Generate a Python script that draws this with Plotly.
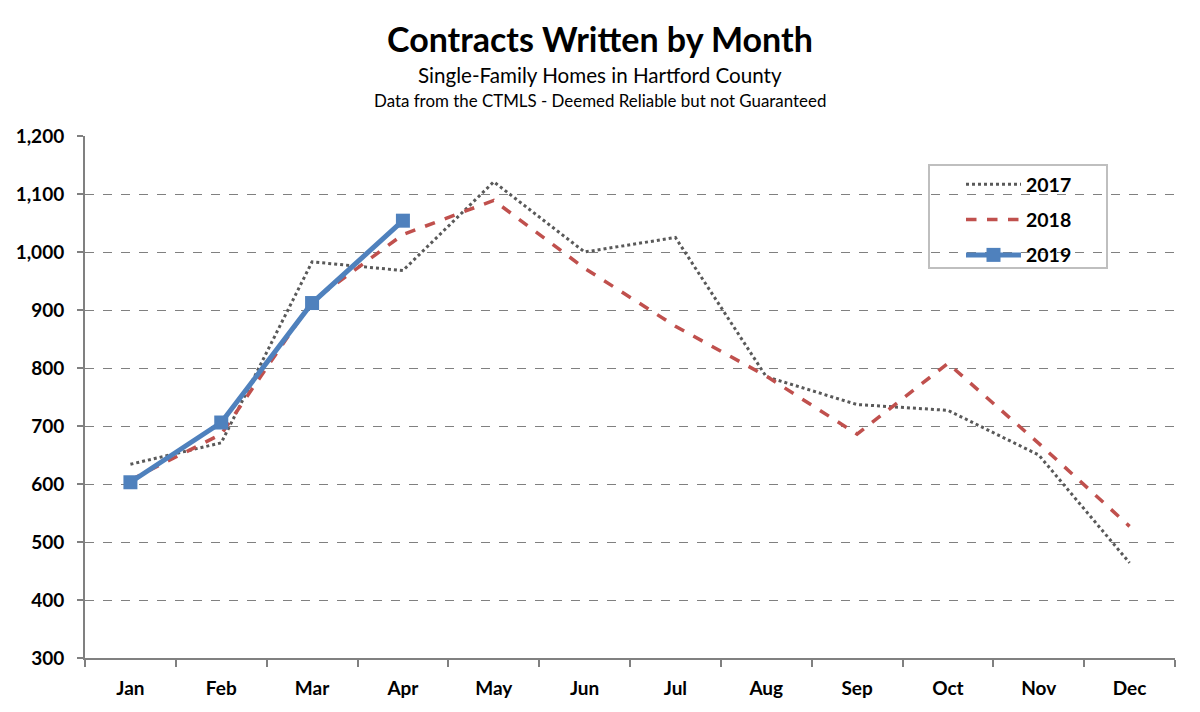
import plotly.graph_objects as go

months = ["Jan", "Feb", "Mar", "Apr", "May", "Jun", "Jul", "Aug", "Sep", "Oct", "Nov", "Dec"]
y2017 = [634, 671, 983, 968, 1121, 1000, 1025, 785, 737, 727, 650, 464]
y2018 = [607, 686, 915, 1030, 1089, 972, 872, 786, 686, 808, 670, 527]
y2019 = [603, 706, 912, 1054]
y_ticks = [300, 400, 500, 600, 700, 800, 900, 1000, 1100, 1200]

FONT = "Lato, Open Sans, sans-serif"

fig = go.Figure()
fig.add_trace(go.Scatter(x=months, y=y2017, name="2017", mode="lines", legendgroup="a",
                         line=dict(color="#595959", width=3, dash="dot")))
fig.add_trace(go.Scatter(x=months, y=y2018, name="2018", mode="lines", legendgroup="b",
                         line=dict(color="#C0504D", width=3.5, dash="dash")))
fig.add_trace(go.Scatter(x=months[:len(y2019)], y=y2019, name="2019", mode="lines+markers",
                         legendgroup="c",
                         line=dict(color="#4F81BD", width=5),
                         marker=dict(symbol="square", size=14, color="#4F81BD")))

L, R, T, B = 77, 25, 128, 54
W, H = 1192, 704
pw = W - L - R
ph = H - T - B
PLOT_LEFT = 85  # page px of plot left edge

def px_x(x):
    return (x - PLOT_LEFT) / pw

def px_y(y):
    return (658 - y) / ph

fig.update_layout(
    width=W, height=H,
    paper_bgcolor="white", plot_bgcolor="white",
    margin=dict(l=L, r=R, t=T, b=B, autoexpand=False),
    font=dict(family=FONT, color="black"),
    showlegend=True,
    legend=dict(x=px_x(961), y=px_y(165), xanchor="left", yanchor="top",
                bgcolor="rgba(0,0,0,0)", borderwidth=0,
                font=dict(size=19.5, family=FONT, weight="bold"),
                itemwidth=55, tracegroupgap=7),
)
fig.add_shape(type="rect", xref="paper", yref="paper",
              x0=px_x(929), x1=px_x(1107), y0=px_y(268), y1=px_y(165),
              line=dict(color="#BFBFBF", width=2), fillcolor="white", layer="between")
fig.add_annotation(text="<b>Contracts Written by Month</b>", xref="paper", yref="paper",
                   x=px_x(600), y=1.0, yshift=98, xanchor="center", yanchor="middle",
                   showarrow=False, font=dict(size=34, family=FONT))
fig.add_annotation(text="Single-Family Homes in Hartford County", xref="paper", yref="paper",
                   x=px_x(600), y=1.0, yshift=61, xanchor="center", yanchor="middle",
                   showarrow=False, font=dict(size=20.6, family=FONT))
fig.add_annotation(text="Data from the CTMLS - Deemed Reliable but not Guaranteed", xref="paper", yref="paper",
                   x=px_x(600), y=1.0, yshift=36, xanchor="center", yanchor="middle",
                   showarrow=False, font=dict(size=16.9, family=FONT))

fig.update_xaxes(type="category", categoryorder="array", categoryarray=months,
                 range=[-0.5, 11.5], showline=True, linecolor="#808080", linewidth=2,
                 ticks="outside", tickson="boundaries", ticklen=7, tickcolor="#808080", tickwidth=2,
                 showgrid=False, tickfont=dict(size=19, family=FONT, weight="bold"),
                 ticklabelstandoff=12, automargin=False)
fig.update_yaxes(range=[300, 1200], tickvals=y_ticks,
                 ticktext=[f"{v:,}" for v in y_ticks],
                 showline=True, linecolor="#808080", linewidth=2,
                 ticks="outside", ticklen=6, tickcolor="#808080", tickwidth=2,
                 showgrid=True, gridcolor="#808080", gridwidth=1.3, griddash="dash",
                 zeroline=False, tickfont=dict(size=19, family=FONT, weight="bold"),
                 ticklabelstandoff=9, automargin=False)

fig.write_html("out.html")
